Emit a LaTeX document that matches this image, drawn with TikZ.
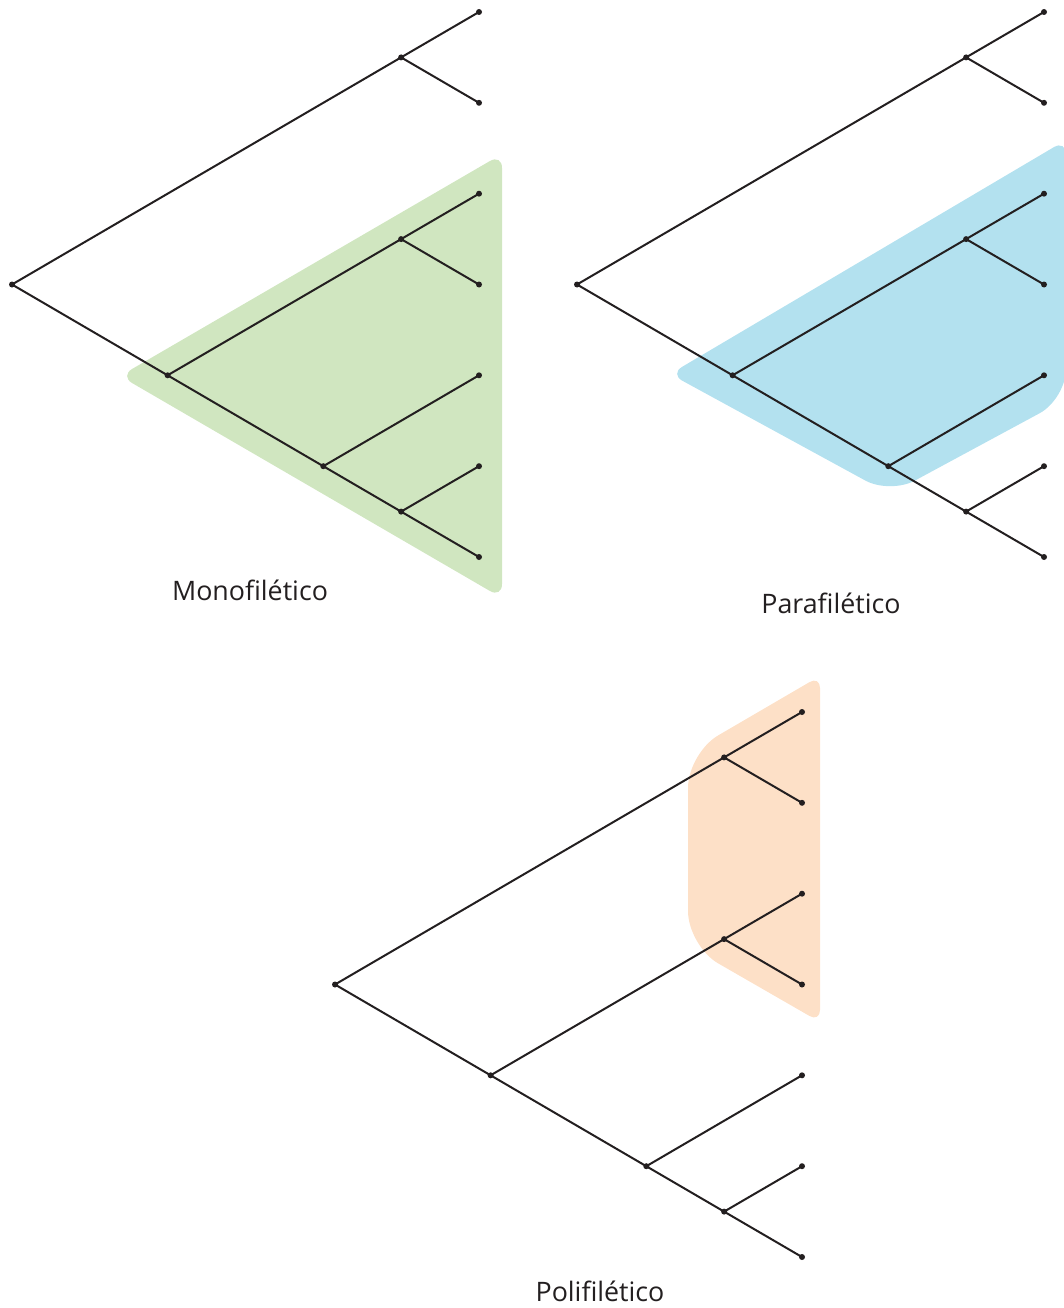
\documentclass[tikz,border=0pt]{standalone}
\usepackage{fontspec}
\setmainfont{Open Sans}
\definecolor{ink}{HTML}{231F20}
\definecolor{monogreen}{HTML}{D0E6C0}
\definecolor{parablue}{HTML}{B3E1EF}
\definecolor{polyorange}{HTML}{FDE0C7}
\newcommand{\phylotree}[1]{%
  \node[tip] (#1L1) at (479,12) {};
  \node[tip] (#1L2) at (479,102.8) {};
  \node[tip] (#1L3) at (479,193.7) {};
  \node[tip] (#1L4) at (479,284.5) {};
  \node[tip] (#1L5) at (479,375.3) {};
  \node[tip] (#1L6) at (479,466.2) {};
  \node[tip] (#1L7) at (479,557) {};
  \node[tip] (#1a) at (401.1,57.4) {};
  \node[tip] (#1c) at (401.1,239.1) {};
  \node[tip] (#1e) at (401.1,511.6) {};
  \node[tip] (#1d) at (323.3,466.2) {};
  \node[tip] (#1b) at (167.6,375.3) {};
  \node[tip] (#1r) at (12,284.5) {};
  \draw[branch] (#1a.center) -- (#1L1.center);
  \draw[branch] (#1a.center) -- (#1L2.center);
  \draw[branch] (#1c.center) -- (#1L3.center);
  \draw[branch] (#1c.center) -- (#1L4.center);
  \draw[branch] (#1e.center) -- (#1L6.center);
  \draw[branch] (#1e.center) -- (#1L7.center);
  \draw[branch] (#1d.center) -- (#1L5.center);
  \draw[branch] (#1d.center) -- (#1e.center);
  \draw[branch] (#1b.center) -- (#1c.center);
  \draw[branch] (#1b.center) -- (#1d.center);
  \draw[branch] (#1r.center) -- (#1a.center);
  \draw[branch] (#1r.center) -- (#1b.center);
}
\begin{document}
\begin{tikzpicture}[x=1pt,y=-1pt,
  branch/.style={line width=2pt, draw=ink, line cap=round},
  tip/.style={circle, fill=ink, inner sep=0pt, minimum size=6pt},
  lbl/.style={font=\fontsize{26.8}{31}\selectfont, text=ink, anchor=base, inner sep=0pt}]
\useasboundingbox (0,0) rectangle (1064,1308);
\clip (0,0) rectangle (1064,1308);
% shaded groups
\fill[monogreen, rounded corners=14pt] (120,376) -- (502,154) -- (502,598) -- cycle;
\fill[parablue, rounded corners=14pt] (670,374) -- (1066,140) [rounded corners=30pt] -- (1066,399) [rounded corners=28pt] -- (890,494) [rounded corners=14pt] -- cycle;
\fill[polyorange, rounded corners=12pt] (820,676) [rounded corners=35pt] -- (688,753) -- (688,946) [rounded corners=12pt] -- (820,1022) -- cycle;
% trees
\begin{scope}
  \phylotree{m}
\end{scope}
\begin{scope}[shift={(565,0)}]
  \phylotree{p}
\end{scope}
\begin{scope}[shift={(323,700)}]
  \phylotree{q}
\end{scope}
% labels
\node[lbl] (monoLabel) at (250,600) {Monofilético};
\node[lbl] (paraLabel) at (831,613) {Parafilético};
\node[lbl] (poliLabel) at (600,1301) {Polifilético};
\end{tikzpicture}
\end{document}
